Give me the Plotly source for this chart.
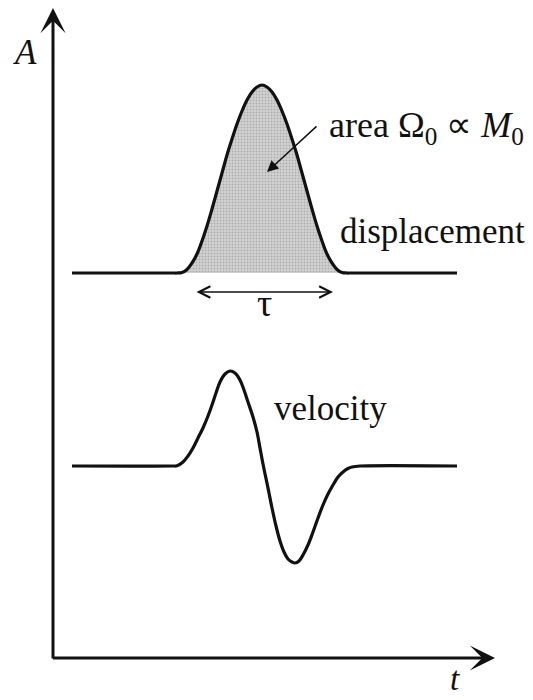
import plotly.graph_objects as go

# Displacement pulse: time samples and amplitude above its baseline
disp_t = [1.9, 12.0, 12.4, 12.9, 13.4, 13.9, 14.4, 14.9, 15.4, 15.9, 16.4, 16.9, 17.4, 17.9,
          18.4, 18.9, 19.4, 19.9, 20.4, 20.9, 21.4, 21.9, 22.4, 22.9, 23.4, 23.9, 24.4,
          24.9, 25.4, 25.9, 26.4, 26.9, 27.4, 27.9, 28.4, 28.9, 29.4, 29.8, 40.4]
disp_a = [0, 0, 0, 0.05, 0.35, 1.0, 1.9, 3.2, 4.7, 6.4, 8.2, 10.0, 11.8, 13.4,
          14.9, 16.2, 17.3, 18.1, 18.6, 18.8, 18.6, 18.1, 17.3, 16.2, 14.9, 13.4, 11.8,
          10.0, 8.2, 6.4, 4.7, 3.2, 1.9, 1.0, 0.35, 0.05, 0, 0, 0]

# Velocity pulse: time samples and amplitude about its baseline
vel_t = [1.9, 12.0, 12.4, 13.0, 13.5, 14.0, 14.5, 15.0, 15.5, 15.9, 16.3, 16.7, 17.2, 17.7,
         18.2, 18.7, 19.1, 19.5, 20.0, 20.4, 20.7, 21.0, 21.5, 21.9, 22.3, 22.7, 23.1, 23.5,
         23.9, 24.2, 24.6, 25.0, 25.5, 26.0, 26.5, 27.0, 27.5, 28.0, 28.5, 29.0, 29.5,
         29.9, 30.7, 40.4]
vel_a = [0, 0, 0.02, 0.4, 1.0, 1.8, 2.8, 3.8, 5.0, 6.1, 7.3, 8.4, 9.2, 9.5,
         9.3, 8.6, 7.6, 6.4, 4.9, 3.4, 1.8, 0.2, -2.2, -4.2, -6.0, -7.5, -8.6, -9.3,
         -9.6, -9.7, -9.5, -8.9, -7.9, -6.6, -5.2, -3.9, -2.8, -1.9, -1.1, -0.6, -0.25,
         -0.1, 0, 0]

# Baseline levels of the two curves on the A axis
DISP_BASE = 38.5
VEL_BASE = 19.2

FONT = "Liberation Serif"
INK = "#111111"
CURVE = dict(color=INK, width=3.2, shape="spline", smoothing=1.0)

fig = go.Figure()

# Shaded area under the displacement pulse
pulse = [(t, a) for t, a in zip(disp_t, disp_a) if 12.3 <= t <= 29.5]
fig.add_trace(go.Scatter(
    x=[t for t, _ in pulse], y=[DISP_BASE + a for _, a in pulse],
    mode="lines", line=dict(width=0, shape="spline", smoothing=1.0),
    fill="toself", fillcolor="#c2c2c2",
    fillpattern=dict(shape=".", fgcolor="#8a8a8a", bgcolor="#d2d2d2", size=3, solidity=0.35),
    hoverinfo="skip", showlegend=False,
))

fig.add_trace(go.Scatter(
    x=disp_t, y=[DISP_BASE + a for a in disp_a], mode="lines",
    line=CURVE, showlegend=False, name="displacement",
))
fig.add_trace(go.Scatter(
    x=vel_t, y=[VEL_BASE + a for a in vel_a], mode="lines",
    line=CURVE, showlegend=False, name="velocity",
))

def arrow(x0, y0, x1, y1, **kw):
    fig.add_annotation(x=x1, y=y1, ax=x0, ay=y0, xref="x", yref="y", axref="x", ayref="y",
                       text="", showarrow=True, arrowcolor=INK, **kw)

# Axes drawn as arrows
arrow(0, -0.2, 0, 65.0, arrowhead=3, arrowwidth=3, arrowsize=1.4)
arrow(-0.15, 0, 44.2, 0, arrowhead=3, arrowwidth=3, arrowsize=1.4)

# Pulse duration tau
arrow(14.2, 36.6, 28.0, 36.6, arrowhead=5, startarrowhead=5, arrowside="end+start",
      arrowwidth=1.4, arrowsize=1.6, startarrowsize=1.6)

# Pointer to the shaded area
arrow(26.5, 53.3, 21.4, 48.6, arrowhead=2, arrowwidth=1.5, arrowsize=1.5)

def label(x, y, text, xanchor="left", size=35):
    fig.add_annotation(x=x, y=y, xref="x", yref="y", text=text, showarrow=False,
                       xanchor=xanchor, yanchor="middle",
                       font=dict(family=FONT, size=size, color=INK))

label(27.4, 53.1, "area Ω<sub>0</sub> ∝ <i>M</i><sub>0</sub>", size=36)
label(28.5, 42.7, "displacement")
label(21.9, 25.0, "velocity")
label(21.1, 35.5, "τ", xanchor="center", size=38)
label(-2.8, 60.6, "<i>A</i>", xanchor="center")
label(40.2, -2.1, "<i>t</i>", xanchor="center", size=33)

fig.update_layout(
    width=533, height=700,
    margin=dict(l=0, r=0, t=0, b=0),
    paper_bgcolor="white", plot_bgcolor="white",
    xaxis=dict(range=[-5.3, 48.0], visible=False, fixedrange=True),
    yaxis=dict(range=[-4.2, 65.8], visible=False, fixedrange=True),
    showlegend=False,
)

fig.write_html("out.html")
